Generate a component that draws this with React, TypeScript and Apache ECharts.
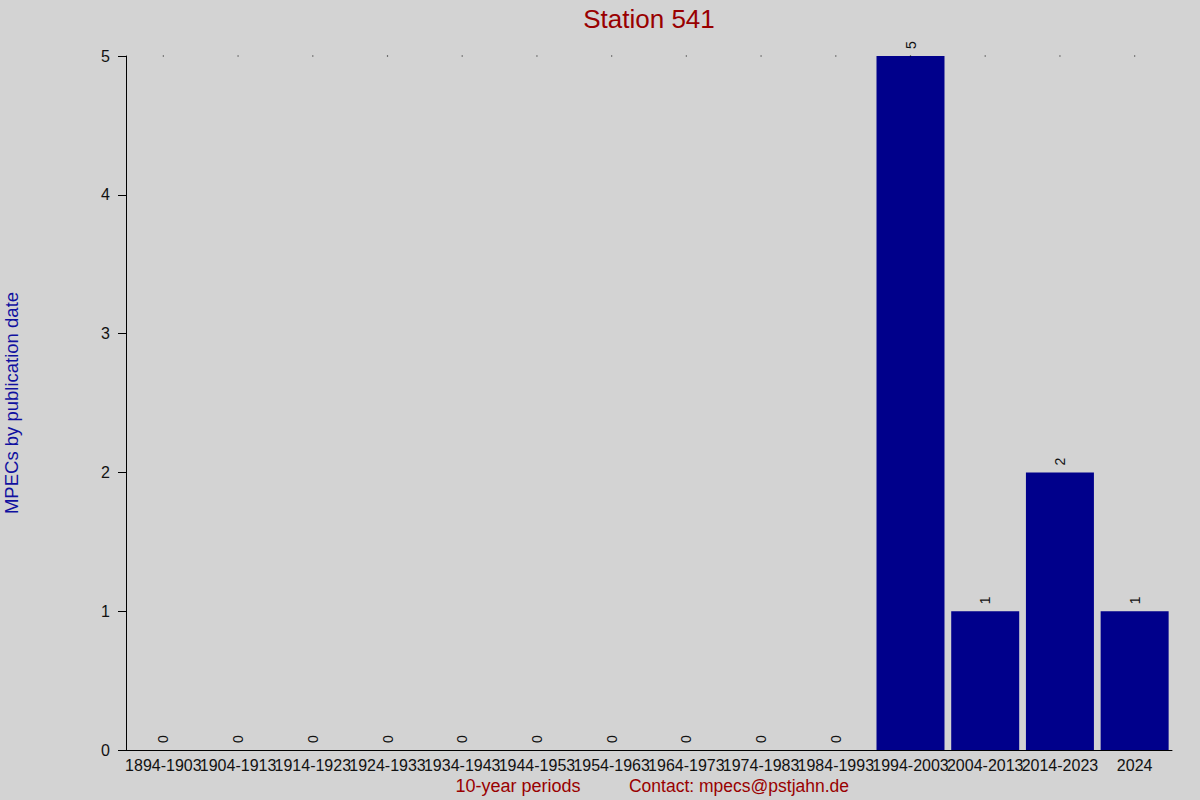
import React, { useEffect, useRef } from "react";
import * as echarts from "echarts";

const periods = [
  "1894-1903", "1904-1913", "1914-1923", "1924-1933", "1934-1943",
  "1944-1953", "1954-1963", "1964-1973", "1974-1983", "1984-1993",
  "1994-2003", "2004-2013", "2014-2023", "2024",
];
const mpecCounts = [0, 0, 0, 0, 0, 0, 0, 0, 0, 0, 5, 1, 2, 1];
const yTicks = [0, 1, 2, 3, 4, 5];
const topDotLevel = 5;

const FONT = "'Liberation Sans', Arial, sans-serif";

const App = () => {
  const chartRef = useRef<HTMLDivElement>(null);

  useEffect(() => {
    if (!chartRef.current) return;
    const chart = echarts.init(chartRef.current, null, { renderer: "svg" });

    const options = {
      animation: false,
      backgroundColor: "#d3d3d3",
      textStyle: { fontFamily: FONT },
      title: {
        text: "Station 541",
        left: 644,
        top: 1,
        textAlign: "center",
        textStyle: { color: "#990000", fontSize: 26, fontWeight: "normal", fontFamily: FONT },
      },
      grid: { left: 126, right: 28, top: 56, bottom: 50, containLabel: false },
      xAxis: {
        type: "category",
        data: periods,
        axisLine: { show: true, lineStyle: { color: "#000", width: 1 } },
        axisTick: { show: false },
        axisLabel: { interval: 0, color: "#111", fontSize: 16, margin: 7, fontFamily: FONT },
      },
      yAxis: {
        type: "value",
        min: yTicks[0],
        max: yTicks[yTicks.length - 1],
        interval: 1,
        splitLine: { show: false },
        axisLine: { show: true, lineStyle: { color: "#000", width: 1 } },
        axisTick: { show: true, length: 8, lineStyle: { color: "#000" } },
        axisLabel: { color: "#111", fontSize: 16, margin: 16, fontFamily: FONT },
      },
      graphic: [
        {
          type: "text",
          x: 11,
          y: 403,
          rotation: Math.PI / 2,
          style: {
            text: "MPECs by publication date",
            fill: "#1010a0",
            font: `18.5px ${FONT}`,
            align: "center",
            verticalAlign: "middle",
          },
        },
        {
          type: "text",
          x: 518,
          y: 786,
          style: {
            text: "10-year periods",
            fill: "#990000",
            font: `18px ${FONT}`,
            align: "center",
            verticalAlign: "middle",
          },
        },
        {
          type: "text",
          x: 739,
          y: 786,
          style: {
            text: "Contact: mpecs@pstjahn.de",
            fill: "#990000",
            font: `17.5px ${FONT}`,
            align: "center",
            verticalAlign: "middle",
          },
        },
      ],
      series: [
        {
          type: "scatter",
          data: periods.map(() => topDotLevel),
          symbol: "rect",
          symbolSize: 1.2,
          itemStyle: { color: "#000" },
          silent: true,
        },
        {
          type: "bar",
          data: mpecCounts,
          barCategoryGap: "9%",
          itemStyle: { color: "#00008b" },
          label: {
            show: true,
            position: "top",
            rotate: 90,
            align: "left",
            verticalAlign: "middle",
            distance: 7,
            color: "#111",
            fontSize: 14,
            fontFamily: FONT,
          },
        },
      ],
    };

    chart.setOption(options);
    return () => chart.dispose();
  }, []);

  return (
    <div
      ref={chartRef}
      style={{ position: "fixed", left: 0, top: 0, width: "1200px", height: "800px" }}
    />
  );
};

export default App;
